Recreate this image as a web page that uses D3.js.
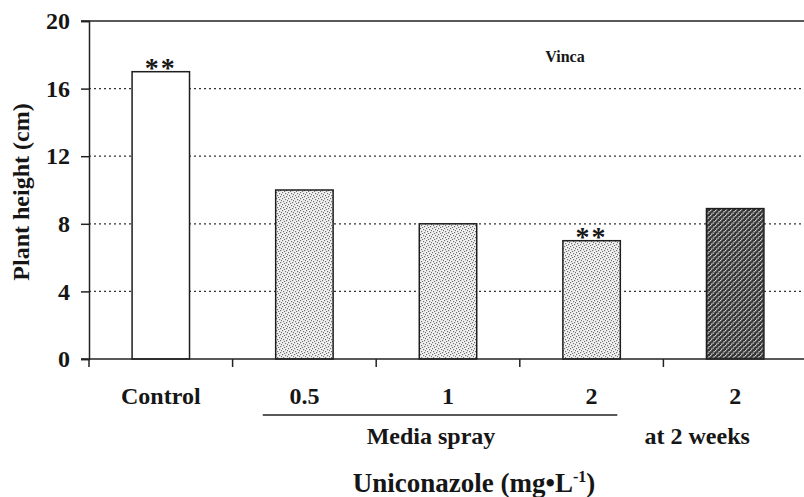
<!DOCTYPE html>
<html>
<head>
<meta charset="utf-8">
<script src="https://cdn.jsdelivr.net/npm/d3@7"></script>
<style>
  body { margin: 0; background: #fff; }
</style>
</head>
<body>
<div id="chart"></div>
<script>
'use strict';

// data
var categories = ["control", "spray-0.5", "spray-1", "spray-2", "late-2"];
var tickLabels = ["Control", "0.5", "1", "2", "2"];
var heights = [17, 10, 8, 7, 8.9];
var treatment = ["control", "spray", "spray", "spray", "late"];
var signif = [true, false, false, true, false];
var yTicks = [0, 4, 8, 12, 16, 20];

var serif = "'Liberation Serif', 'Times New Roman', Times, 'DejaVu Serif', serif";

var width = 804,
    height = 497,
    margin = { top: 21, right: -3, bottom: 138, left: 89 };

var svg = d3.select("#chart").append("svg")
    .attr("width", width)
    .attr("height", height);

function label(sel, size) {
    return sel.style("font-family", serif)
        .style("font-weight", "bold")
        .style("font-size", size + "px")
        .attr("fill", "#161616");
}

// fill patterns for the bars
var defs = svg.append("defs");

var light = defs.append("pattern")
    .attr("id", "stipple")
    .attr("patternUnits", "userSpaceOnUse")
    .attr("width", 6).attr("height", 6);
light.append("rect").attr("width", 6).attr("height", 6).attr("fill", "#f2f2f2");
[[0, 0], [3, 1], [1, 3], [4, 4], [5, 2], [2, 5]].forEach(function(p) {
    light.append("rect").attr("x", p[0]).attr("y", p[1])
        .attr("width", 1.2).attr("height", 1.2).attr("fill", "#707070");
});

var dark = defs.append("pattern")
    .attr("id", "dense")
    .attr("patternUnits", "userSpaceOnUse")
    .attr("width", 5).attr("height", 5);
dark.append("rect").attr("width", 5).attr("height", 5).attr("fill", "#363636");
[[0, 0], [2.5, 2.5], [1, 3.5], [3.5, 1]].forEach(function(p) {
    dark.append("rect").attr("x", p[0]).attr("y", p[1])
        .attr("width", 1.3).attr("height", 1.3).attr("fill", "#d8d8d8");
});

var x = d3.scaleBand()
    .domain(categories)
    .range([margin.left, width - margin.right])
    .paddingInner(0.6)
    .paddingOuter(0.3);

var y = d3.scaleLinear()
    .domain([0, 20])
    .range([height - margin.bottom, margin.top]);

var step = x.step();

//dotted grid lines
svg.append("g")
    .selectAll("line")
    .data(yTicks.filter(function(d) { return d > 0 && d < 20; }))
    .enter().append("line")
    .attr("x1", margin.left).attr("x2", width)
    .attr("y1", function(d) { return y(d); })
    .attr("y2", function(d) { return y(d); })
    .attr("stroke", "#333")
    .attr("stroke-width", 1.2)
    .attr("stroke-dasharray", "2,3");

// top frame line
svg.append("line")
    .attr("x1", margin.left - 8).attr("x2", width)
    .attr("y1", y(20)).attr("y2", y(20))
    .attr("stroke", "#222").attr("stroke-width", 1.5);

// bars
svg.append("g")
    .selectAll("rect")
    .data(heights)
    .enter().append("rect")
    .attr("x", function(d, i) { return x(categories[i]); })
    .attr("width", x.bandwidth())
    .attr("y", function(d) { return y(d); })
    .attr("height", function(d) { return y(0) - y(d); })
    .attr("fill", function(d, i) {
        if (treatment[i] == "control") return "#fff";
        return treatment[i] == "spray" ? "url(#stipple)" : "url(#dense)";
    })
    .attr("stroke", "#1e1e1e")
    .attr("stroke-width", 1.5);

// significance marks
svg.append("g")
    .selectAll("text")
    .data(heights.map(function(d, i) { return { v: d, c: categories[i], s: signif[i] }; })
        .filter(function(d) { return d.s; }))
    .enter().append("text")
    .attr("x", function(d) { return x(d.c) + x.bandwidth() / 2; })
    .attr("y", function(d) { return y(d.v) + 5; })
    .attr("text-anchor", "middle")
    .attr("letter-spacing", 2)
    .call(label, 28)
    .text("**");

// y axis
var yAxis = d3.axisLeft(y)
    .tickValues(yTicks)
    .tickSize(8)
    .tickPadding(11)
    .tickFormat(d3.format("d"));

var gy = svg.append("g")
    .attr("transform", "translate(" + margin.left + ",0)")
    .call(yAxis);
gy.select(".domain").attr("stroke", "#222").attr("stroke-width", 1.5);
gy.selectAll(".tick line").attr("stroke", "#222").attr("stroke-width", 1.5);
gy.selectAll(".tick text").call(label, 24);

// x axis: line plus ticks at band boundaries
svg.append("line")
    .attr("x1", margin.left - 8).attr("x2", width)
    .attr("y1", y(0)).attr("y2", y(0))
    .attr("stroke", "#222").attr("stroke-width", 1.5);

svg.append("g")
    .selectAll("line")
    .data(categories)
    .enter().append("line")
    .attr("x1", function(d) { return x(d) - step * 0.3; })
    .attr("x2", function(d) { return x(d) - step * 0.3; })
    .attr("y1", y(0)).attr("y2", y(0) + 8)
    .attr("stroke", "#222").attr("stroke-width", 1.5);

svg.append("g")
    .selectAll("text")
    .data(tickLabels)
    .enter().append("text")
    .attr("x", function(d, i) { return x(categories[i]) + x.bandwidth() / 2; })
    .attr("y", y(0) + 45)
    .attr("text-anchor", "middle")
    .call(label, 24)
    .text(function(d) { return d; });

// group bracket under the spray treatments
svg.append("line")
    .attr("x1", x("spray-0.5") - step * 0.09).attr("x2", x("spray-2") + x.bandwidth() - 3)
    .attr("y1", 415).attr("y2", 415)
    .attr("stroke", "#222").attr("stroke-width", 1.3);

svg.append("text")
    .attr("x", x("spray-1") + x.bandwidth() / 2 - 17)
    .attr("y", 444)
    .attr("text-anchor", "middle")
    .call(label, 24)
    .text("Media spray");

svg.append("text")
    .attr("x", x("late-2") + x.bandwidth() / 2 - 38)
    .attr("y", 444)
    .attr("text-anchor", "middle")
    .call(label, 24)
    .text("at 2 weeks");

// axis titles
var xt = svg.append("text")
    .attr("x", 474)
    .attr("y", 492)
    .attr("text-anchor", "middle")
    .call(label, 27);
xt.append("tspan").text("Uniconazole (mg\u2022L");
xt.append("tspan").attr("dy", -10).style("font-size", "16px").text("-1");
xt.append("tspan").attr("dy", 10).text(")");

svg.append("text")
    .attr("transform", "translate(29," + 192 + ") rotate(-90)")
    .attr("text-anchor", "middle")
    .call(label, 24)
    .text("Plant height (cm)");

svg.append("text")
    .attr("x", 565)
    .attr("y", 62)
    .attr("text-anchor", "middle")
    .call(label, 16)
    .text("Vinca");
</script>
</body>
</html>
